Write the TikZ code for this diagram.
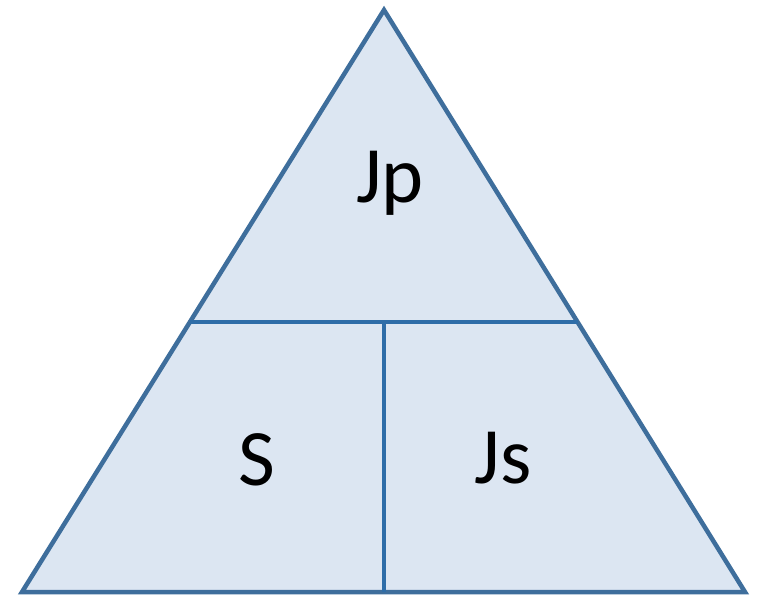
\documentclass[tikz,border=0pt]{standalone}
\usepackage{fontspec}
\setmainfont{Carlito}
\definecolor{fillblue}{HTML}{DCE6F2}
\definecolor{edgeblue}{HTML}{3E6E9C}
\definecolor{innerblue}{HTML}{2E6DA8}
\begin{document}
\begin{tikzpicture}[x=1pt,y=-1pt,
  lbl/.style={font=\fontsize{80}{80}\selectfont, text=black, inner sep=0pt},
  edge/.style={draw=edgeblue, line width=4.5pt, line join=miter},
  inner/.style={draw=innerblue, line width=4.5pt}]
\useasboundingbox (0,0) rectangle (759,600);
\fill[white] (0,0) rectangle (759,600);
\coordinate (apex) at (384,10);
\coordinate (bl) at (22,592);
\coordinate (br) at (745,592);
\coordinate (ml) at (190,322);
\coordinate (mr) at (577.5,322);
\coordinate (mm) at (384,322);
\coordinate (mb) at (384,592);
\filldraw[fill=fillblue, edge] (apex) -- (br) -- (bl) -- cycle;
\draw[inner] (ml) -- (mr);
\draw[inner] (mm) -- (mb);
\node[lbl] (jp) at (390,183) {Jp};
\node[lbl] (s) at (257,460) {S};
\node[lbl] (js) at (503,458) {Js};
\end{tikzpicture}
\end{document}
